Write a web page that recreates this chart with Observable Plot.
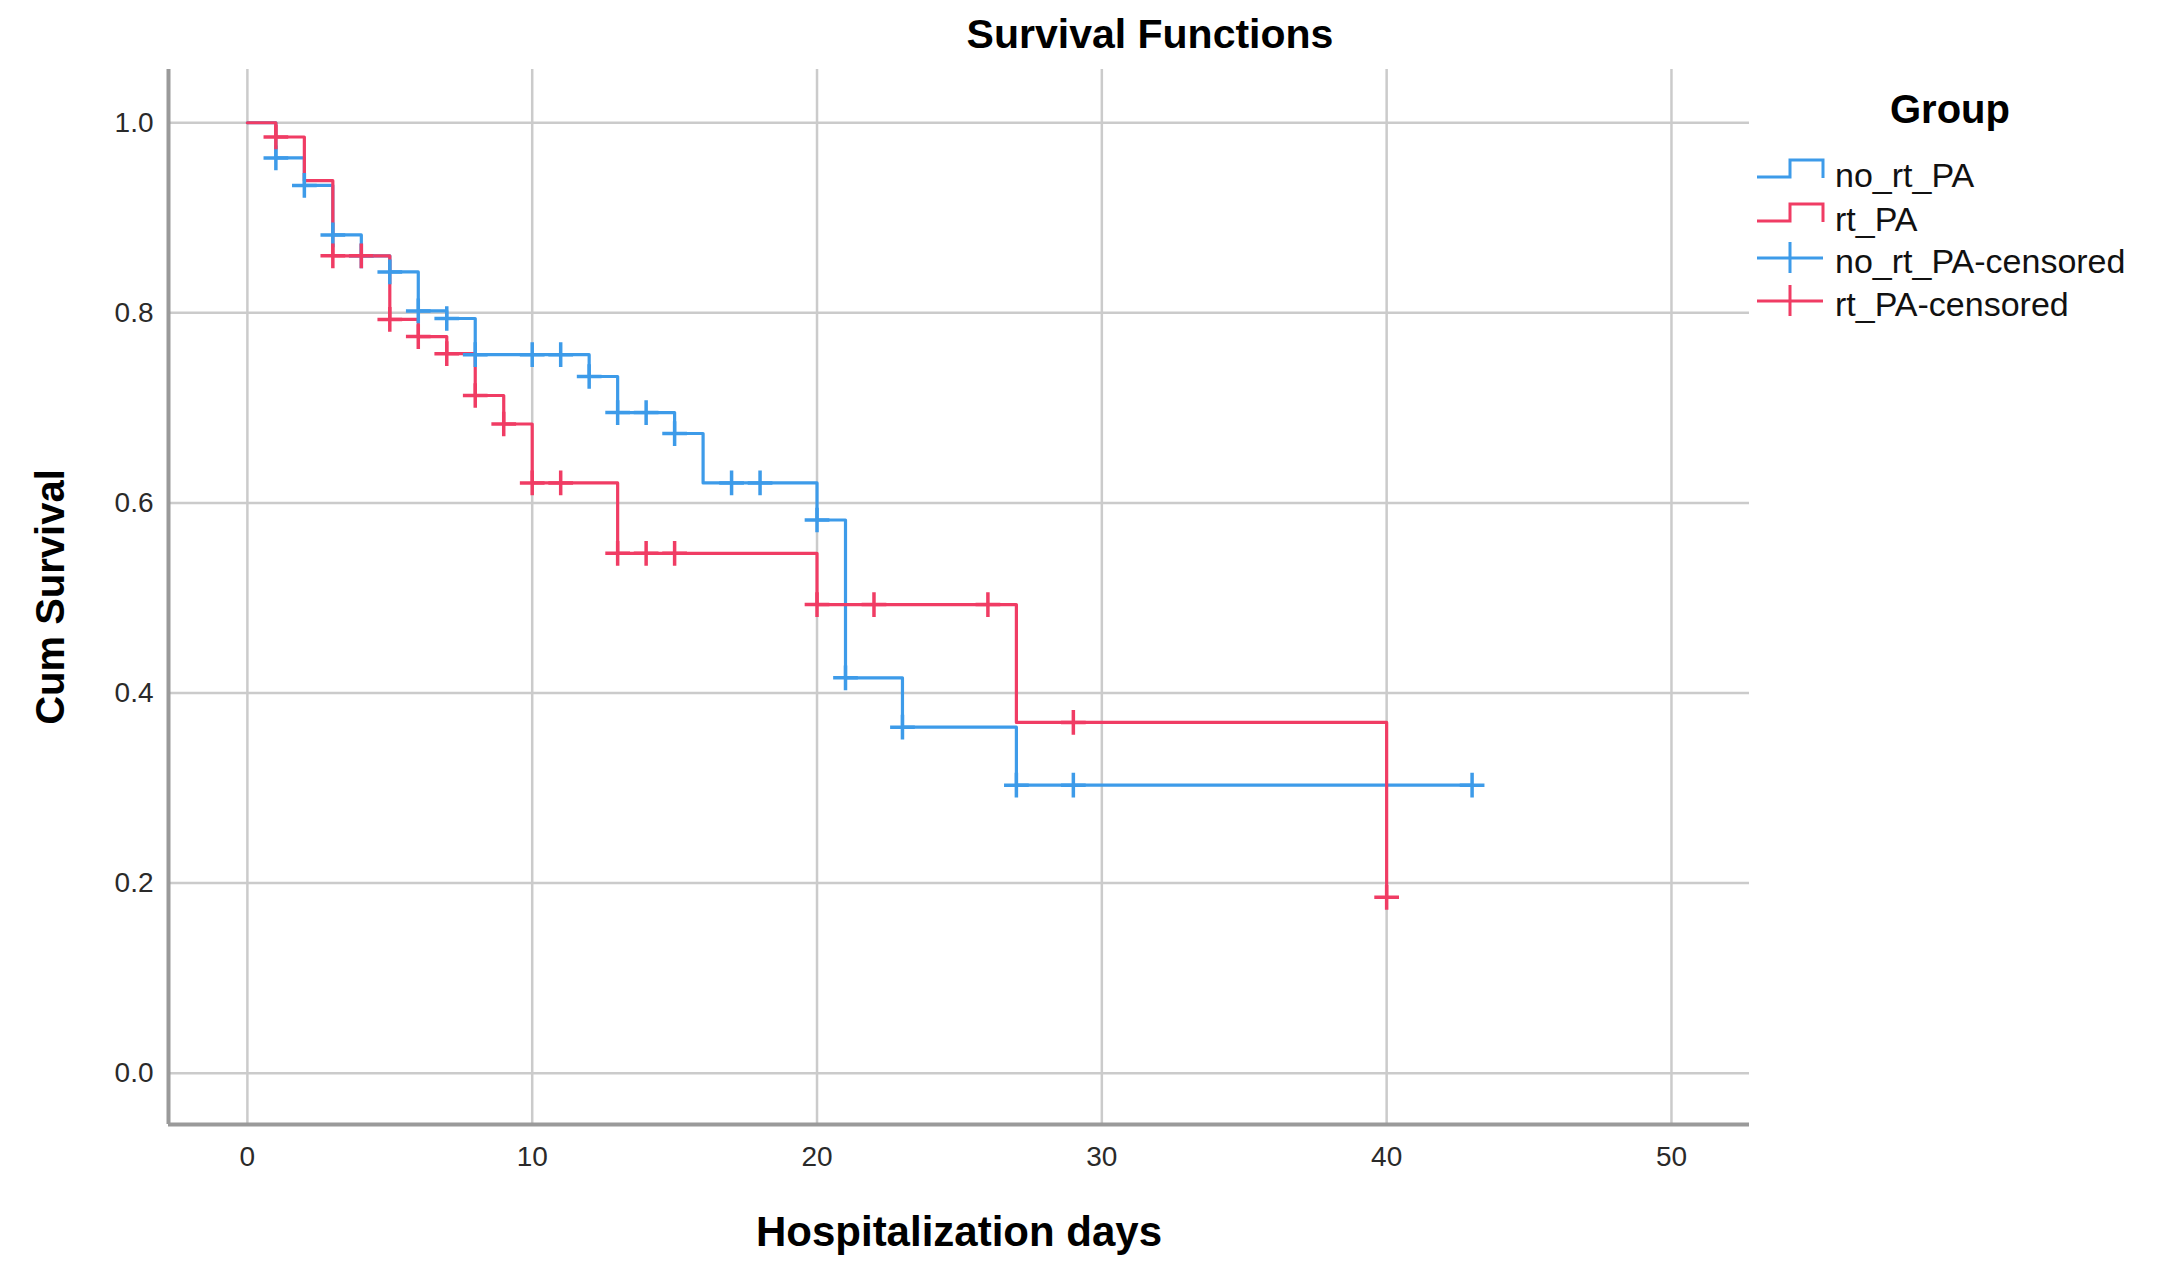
<!DOCTYPE html>
<html><head><meta charset="utf-8">
<script src="https://cdn.jsdelivr.net/npm/d3@7"></script>
<script src="https://cdn.jsdelivr.net/npm/@observablehq/plot@0.6"></script>
<style>
body{margin:0;background:#fff;font-family:"Liberation Sans",Arial,sans-serif;}
#wrap{position:relative;width:2176px;height:1280px;overflow:hidden;background:#fff;}
#title{height:60px;width:2176px;position:relative;}
#title span{position:absolute;left:650px;width:1000px;text-align:center;top:14px;font-size:41px;font-weight:bold;line-height:41px;color:#000;}
#legend{position:absolute;left:1740px;top:80px;}
</style></head><body>
<div id="wrap"><div id="title"><span>Survival Functions</span></div><div id="chart"></div><div id="legend"></div></div>
<script>
// ---- data ----
const groups = ["no_rt_PA", "rt_PA"];
const lineColors = ["#3d9be9", "#f03c64"];

const noRtTimes = [0, 1, 2, 3, 4, 5, 6, 7, 8, 12, 13, 15, 16, 20, 21, 23, 27, 43];
const noRtSurv  = [1.0, 0.963, 0.934, 0.882, 0.860, 0.843, 0.802, 0.794, 0.756, 0.733, 0.695, 0.673, 0.621, 0.582, 0.416, 0.364, 0.303, 0.303];
const noRtCensored = [1, 2, 3, 4, 5, 6, 7, 8, 10, 11, 12, 13, 14, 15, 17, 18, 20, 21, 23, 27, 29, 43];

const rtTimes = [0, 1, 2, 3, 5, 6, 7, 8, 9, 10, 13, 20, 27, 40];
const rtSurv  = [1.0, 0.985, 0.939, 0.860, 0.793, 0.775, 0.757, 0.713, 0.683, 0.621, 0.547, 0.493, 0.369, 0.185];
const rtCensored = [1, 3, 4, 5, 6, 7, 8, 9, 10, 11, 13, 14, 15, 20, 22, 26, 29, 40];

const xTicks = [0, 10, 20, 30, 40, 50];
const yTicks = [0, 0.2, 0.4, 0.6, 0.8, 1.0];
const xDomain = [-2.77, 52.74];
const yDomain = [-0.054, 1.056];

const legendLabels = ["no_rt_PA", "rt_PA", "no_rt_PA-censored", "rt_PA-censored"];
const legendKinds = ["step", "step", "cross", "cross"];
const legendColors = ["#3d9be9", "#f03c64", "#3d9be9", "#f03c64"];

// ---- build rows ----
function survAt(times, surv, t) {
  let s = surv[0];
  for (let i = 0; i < times.length; i++) if (times[i] <= t) s = surv[i];
  return s;
}
const curveRows = [
  ...noRtTimes.map((t, i) => ({group: groups[0], t, s: noRtSurv[i]})),
  ...rtTimes.map((t, i) => ({group: groups[1], t, s: rtSurv[i]}))
];
const censorRows = [
  ...noRtCensored.map(t => ({group: groups[0], t, s: survAt(noRtTimes, noRtSurv, t)})),
  ...rtCensored.map(t => ({group: groups[1], t, s: survAt(rtTimes, rtSurv, t)}))
];

const gridStyle = {stroke: "#cbcbcb", strokeOpacity: 1, strokeWidth: 2.5};
const plot = Plot.plot({
  width: 2176, height: 1220,
  marginLeft: 168, marginRight: 427, marginTop: 9, marginBottom: 156,
  x: {domain: xDomain},
  y: {domain: yDomain},
  color: {domain: groups, range: lineColors},
  style: {fontFamily: "'Liberation Sans', Arial, sans-serif", fontSize: "28px", color: "#2a2a2a", background: "transparent", overflow: "visible"},
  marks: [
    Plot.gridX(xTicks, gridStyle),
    Plot.gridY(yTicks, gridStyle),
    Plot.ruleX([xDomain[0]], {stroke: "#9a9a9a", strokeWidth: 4}),
    Plot.ruleY([yDomain[0]], {stroke: "#9a9a9a", strokeWidth: 4}),
    Plot.axisX(xTicks, {tickSize: 0, tickPadding: 22, label: null, tickFormat: d => String(d)}),
    Plot.axisY(yTicks, {tickSize: 0, tickPadding: 15, label: null, tickFormat: d3.format(".1f")}),
    Plot.line(curveRows, {x: "t", y: "s", z: "group", stroke: "group", curve: "step-after", strokeWidth: 3.2}),
    Plot.dot(censorRows, {x: "t", y: "s", stroke: "group", symbol: "plus", r: 8, strokeWidth: 3.5}),
    Plot.text(["Cum Survival"], {frameAnchor: "left", dx: -117, rotate: -90, textAnchor: "middle", lineAnchor: "middle", fontSize: 40, fontWeight: "bold", fill: "#000"}),
    Plot.text(["Hospitalization days"], {frameAnchor: "bottom", dy: 108, lineAnchor: "middle", fontSize: 42, fontWeight: "bold", fill: "#000"})
  ]
});
document.getElementById("chart").appendChild(plot);

// ---- legend ----
const lg = d3.select("#legend").append("svg").attr("width", 436).attr("height", 260)
  .style("font-family", "'Liberation Sans', Arial, sans-serif");
lg.append("text").attr("x", 210).attr("y", 43).attr("text-anchor", "middle")
  .attr("font-size", 40).attr("font-weight", "bold").attr("fill", "#000").text("Group");
const baseY = [97, 141, 178, 221];
legendLabels.forEach((lab, i) => {
  const y = baseY[i];
  const c = legendColors[i];
  if (legendKinds[i] === "step") {
    lg.append("path").attr("d", `M17,${y}H50V${y - 17}H83V${y + 1}`)
      .attr("fill", "none").attr("stroke", c).attr("stroke-width", 3);
    lg.append("text").attr("x", 95).attr("y", y + 10).attr("font-size", 34).attr("fill", "#111").text(lab);
  } else {
    lg.append("path").attr("d", `M17,${y}H83M50,${y - 16}V${y + 15}`)
      .attr("fill", "none").attr("stroke", c).attr("stroke-width", 3);
    lg.append("text").attr("x", 95).attr("y", y + 15).attr("font-size", 34).attr("fill", "#111").text(lab);
  }
});
</script></body></html>
